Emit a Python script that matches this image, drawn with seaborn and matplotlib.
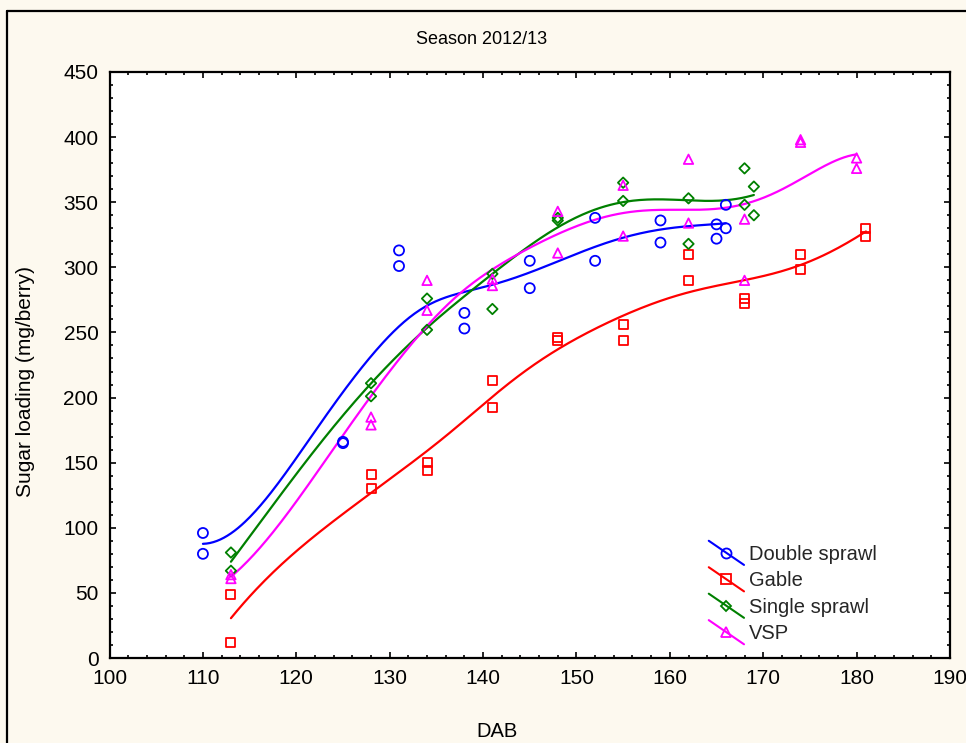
import numpy as np
import pandas as pd
import matplotlib
matplotlib.use("Agg")
import matplotlib.pyplot as plt
import seaborn as sns
from matplotlib.lines import Line2D
from matplotlib.legend_handler import HandlerLine2D
from matplotlib.ticker import MultipleLocator

# Sugar loading (mg/berry) against days after budburst, two replicates per date
dab_double = [110, 110, 125, 125, 131, 131, 138, 138, 145, 145, 152, 152, 159, 159, 165, 165, 166, 166]
sugar_double = [96, 80, 166, 165, 313, 301, 265, 253, 305, 284, 338, 305, 336, 319, 333, 322, 348, 330]

dab_gable = [113, 113, 128, 128, 134, 134, 141, 141, 148, 148, 155, 155, 162, 162, 168, 168, 174, 174, 181, 181]
sugar_gable = [49, 12, 141, 130, 150, 144, 213, 192, 246, 244, 256, 244, 310, 290, 276, 272, 310, 298, 330, 324]

dab_single = [113, 113, 128, 128, 134, 134, 141, 141, 148, 148, 155, 155, 162, 162, 168, 168, 169, 169]
sugar_single = [81, 67, 211, 201, 276, 252, 295, 268, 338, 336, 365, 351, 353, 318, 376, 348, 362, 340]

dab_vsp = [113, 113, 128, 128, 134, 134, 141, 141, 148, 148, 155, 155, 162, 162, 168, 168, 174, 174, 180, 180]
sugar_vsp = [64, 61, 185, 179, 290, 267, 291, 286, 343, 311, 363, 324, 383, 334, 337, 290, 398, 396, 384, 376]

systems = ["Double sprawl", "Gable", "Single sprawl", "VSP"]
colors = ["#0000ff", "#ff0000", "#008000", "#ff00ff"]
markers = ["o", "s", "D", "^"]
sizes = [52, 42, 28, 46]

BG = "#fdf9ef"
BANDWIDTH = 8.8


def dwls(x, y, grid, h):
    """Distance-weighted local quadratic least-squares smoother."""
    x = np.asarray(x, float)
    y = np.asarray(y, float)
    out = np.empty(len(grid))
    for i, g in enumerate(grid):
        d = x - g
        w = np.sqrt(np.exp(-0.5 * (d / h) ** 2))
        X = np.column_stack([np.ones_like(d), d, d ** 2])
        beta, *_ = np.linalg.lstsq(X * w[:, None], y * w, rcond=None)
        out[i] = beta[0]
    return out


points = pd.concat([
    pd.DataFrame({"DAB": dab_double, "sugar": sugar_double, "system": systems[0]}),
    pd.DataFrame({"DAB": dab_gable, "sugar": sugar_gable, "system": systems[1]}),
    pd.DataFrame({"DAB": dab_single, "sugar": sugar_single, "system": systems[2]}),
    pd.DataFrame({"DAB": dab_vsp, "sugar": sugar_vsp, "system": systems[3]}),
], ignore_index=True)

curves = []
for name, grp in points.groupby("system", sort=False):
    grid = np.linspace(grp["DAB"].min(), grp["DAB"].max(), 300)
    curves.append(pd.DataFrame({"DAB": grid,
                                "sugar": dwls(grp["DAB"], grp["sugar"], grid, BANDWIDTH),
                                "system": name}))
curves = pd.concat(curves, ignore_index=True)

sns.set_theme(style="ticks")
plt.rcParams["font.family"] = ["Liberation Sans", "DejaVu Sans"]

fig = plt.figure(figsize=(9.66, 7.43), dpi=100, facecolor=BG)
ax = fig.add_axes([0.1134, 0.1144, 0.8700, 0.7887])
ax.set_facecolor("white")

sns.lineplot(data=curves, x="DAB", y="sugar", hue="system", hue_order=systems,
             palette=colors, estimator=None, sort=False, lw=1.6, legend=False, ax=ax)

for name, col, mk, s in zip(systems, colors, markers, sizes):
    sub = points[points["system"] == name]
    sns.scatterplot(x=sub["DAB"], y=sub["sugar"], marker=mk, s=s, color=col,
                    facecolor="none", edgecolor=col, linewidth=1.3, ax=ax, zorder=3)

ax.set_xlim(100, 190)
ax.set_ylim(0, 450)
ax.xaxis.set_major_locator(MultipleLocator(10))
ax.xaxis.set_minor_locator(MultipleLocator(2))
ax.yaxis.set_major_locator(MultipleLocator(50))
ax.yaxis.set_minor_locator(MultipleLocator(10))
ax.tick_params(which="both", direction="in", top=True, right=True, color="black",
               width=1.2, labelsize=15, labelcolor="black", pad=8)
ax.tick_params(which="major", length=4)
ax.tick_params(which="minor", length=2.5)
for sp in ax.spines.values():
    sp.set_visible(True)
    sp.set_color("black")
    sp.set_linewidth(1.6)

ax.set_xlabel("DAB", fontsize=14.5, color="black")
ax.set_ylabel("Sugar loading (mg/berry)", fontsize=15, color="black")
ax.xaxis.set_label_coords((497 - 109.5) / 840.5, -0.109)
ax.yaxis.set_label_coords((35 - 109.5) / 840.5, 0.471)
fig.text(482 / 966, 1 - 40 / 743, "Season 2012/13", ha="center", va="center",
         fontsize=13, color="black")


class DiagonalHandler(HandlerLine2D):
    def create_artists(self, legend, orig_handle, xdescent, ydescent,
                       width, height, fontsize, trans):
        x0, x1 = -xdescent, -xdescent + width
        yc = height / 2 - ydescent
        dy = 0.6 * fontsize
        line = Line2D([x0, x1], [yc + dy, yc - dy])
        self.update_prop(line, orig_handle, legend)
        line.set_marker("None")
        mark = Line2D([(x0 + x1) / 2], [yc])
        self.update_prop(mark, orig_handle, legend)
        mark.set_linestyle("None")
        line.set_transform(trans)
        mark.set_transform(trans)
        return [line, mark]


handles = [Line2D([], [], color=c, lw=1.5, marker=m, markersize=np.sqrt(s),
                  markerfacecolor="none", markeredgecolor=c, markeredgewidth=1.3)
           for c, m, s in zip(colors, markers, sizes)]
ax.legend(handles, systems, loc="upper left", bbox_to_anchor=(0.713, 0.193),
          frameon=False, fontsize=14.5, handlelength=1.75, handletextpad=0.25,
          labelspacing=0.37, borderpad=0, borderaxespad=0,
          handler_map={h: DiagonalHandler() for h in handles})

# Outer frame lines along the left and top edges
fig.add_artist(Line2D([7 / 966, 7 / 966], [0, 1 - 11 / 743], color="black", lw=1.6,
                      transform=fig.transFigure))
fig.add_artist(Line2D([7 / 966, 1], [1 - 11 / 743, 1 - 11 / 743], color="black", lw=1.6,
                      transform=fig.transFigure))

fig.savefig("out.png", dpi=100, facecolor=BG)
